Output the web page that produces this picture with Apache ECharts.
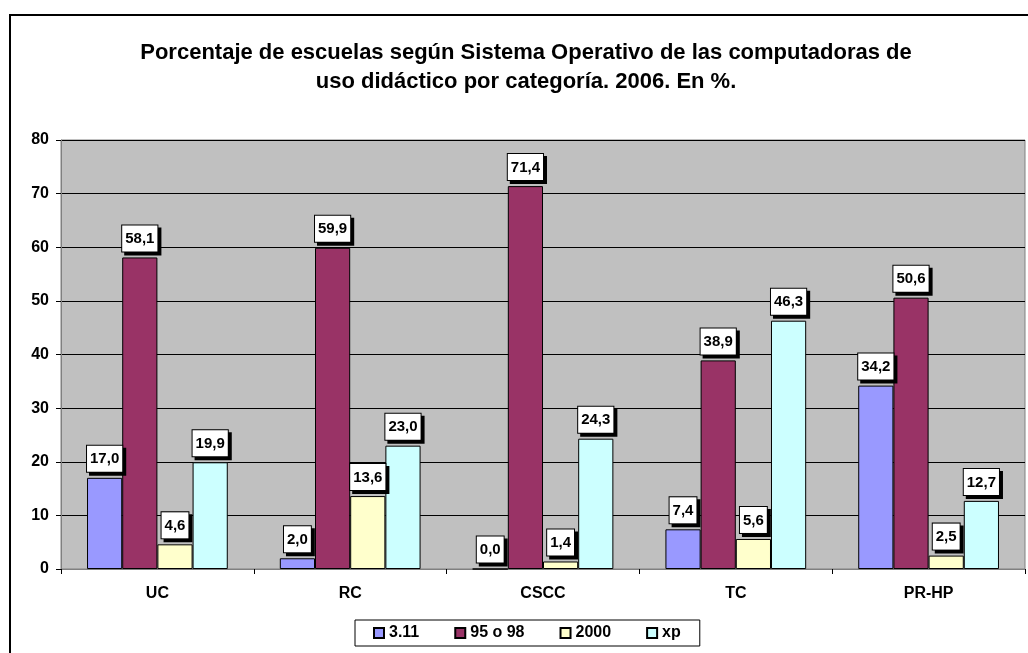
<!DOCTYPE html>
<html lang="es">
<head>
    <meta charset="UTF-8">
    <title>Sistema Operativo por categoría</title>
    <script src="https://cdn.jsdelivr.net/npm/echarts@6/dist/echarts.min.js"></script>
    <style>
        html, body { margin: 0; padding: 0; background: #ffffff; }
        #chart { width: 1028px; height: 653px; }
    </style>
</head>
<body>
    <div id="chart"></div>
    <script>
        // categories and series values
        var categories = ['UC', 'RC', 'CSCC', 'TC', 'PR-HP'];
        var seriesNames = ['3.11', '95 o 98', '2000', 'xp'];
        var v311 = [17.0, 2.0, 0.0, 7.4, 34.2];
        var v9598 = [58.1, 59.9, 71.4, 38.9, 50.6];
        var v2000 = [4.6, 13.6, 1.4, 5.6, 2.5];
        var vxp = [19.9, 23.0, 24.3, 46.3, 12.7];
        var yTicks = [0, 10, 20, 30, 40, 50, 60, 70, 80];

        var colors = ['#9999FF', '#993366', '#FFFFCC', '#CCFFFF'];
        var font = 'Arial, "Liberation Sans", sans-serif';

        var chart = echarts.init(document.getElementById('chart'));

        function makeSeries(name, data, i) {
            return {
                name: name,
                type: 'bar',
                data: data,
                barGap: '0%',
                barCategoryGap: '27%',
                itemStyle: { color: colors[i], borderColor: '#000', borderWidth: 1 },
                label: {
                    show: true,
                    position: 'top',
                    distance: 6,
                    color: '#000',
                    fontFamily: font,
                    fontWeight: 'bold',
                    fontSize: 15,
                    lineHeight: 17,
                    backgroundColor: '#fff',
                    borderColor: '#000',
                    borderWidth: 1,
                    padding: [5, 3, 4, 3],
                    shadowColor: '#000',
                    shadowOffsetX: 3,
                    shadowOffsetY: 3,
                    shadowBlur: 0,
                    formatter: function (p) {
                        return p.value.toFixed(1).replace('.', ',');
                    }
                },
                emphasis: { disabled: true }
            };
        }

        var option = {
            animation: false,
            textStyle: { fontFamily: font },
            title: {
                text: 'Porcentaje de escuelas según Sistema Operativo de las computadoras de\nuso didáctico por categoría. 2006. En %.',
                left: 521,
                top: 33,
                textAlign: 'center',
                textStyle: { fontFamily: font, fontWeight: 'bold', fontSize: 22, lineHeight: 29, color: '#000' }
            },
            legend: {
                data: seriesNames,
                left: 355,
                top: 620,
                padding: [4, 19, 4, 18],
                borderColor: '#000',
                borderWidth: 1,
                itemWidth: 10,
                itemHeight: 10,
                itemGap: 35,
                icon: 'rect',
                textStyle: { fontFamily: font, fontWeight: 'bold', fontSize: 16, lineHeight: 18, color: '#000' }
            },
            grid: {
                left: 61,
                right: 3,
                top: 140,
                bottom: 84,
                show: true,
                backgroundColor: '#C0C0C0',
                borderColor: '#808080',
                borderWidth: 1
            },
            xAxis: {
                type: 'category',
                data: categories,
                axisLine: { lineStyle: { color: '#808080' } },
                axisTick: { show: true, length: 5, lineStyle: { color: '#000' } },
                axisLabel: { fontFamily: font, fontWeight: 'bold', fontSize: 16, color: '#000', margin: 17 }
            },
            yAxis: {
                type: 'value',
                min: yTicks[0],
                max: yTicks[yTicks.length - 1],
                interval: 10,
                axisLine: { show: true, lineStyle: { color: '#808080' } },
                axisTick: { show: true, length: 5, lineStyle: { color: '#000' } },
                axisLabel: { fontFamily: font, fontWeight: 'bold', fontSize: 16, color: '#000', margin: 12 },
                splitLine: { lineStyle: { color: '#000', width: 1 } }
            },
            graphic: [{
                type: 'rect',
                silent: true,
                shape: { x: 10, y: 15, width: 1040, height: 680 },
                style: { fill: 'none', stroke: '#000', lineWidth: 2 }
            }],
            series: [
                makeSeries(seriesNames[0], v311, 0),
                makeSeries(seriesNames[1], v9598, 1),
                makeSeries(seriesNames[2], v2000, 2),
                makeSeries(seriesNames[3], vxp, 3)
            ]
        };

        chart.setOption(option);
    </script>
</body>
</html>
